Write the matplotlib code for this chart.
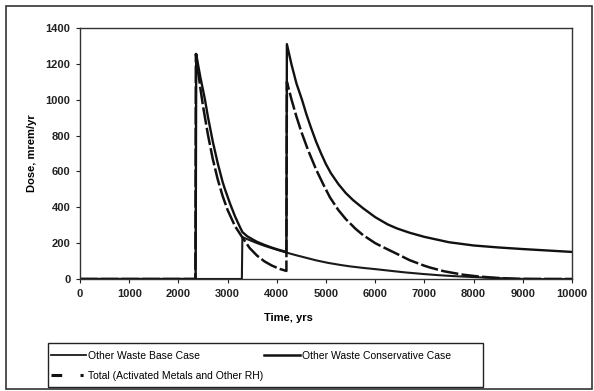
import matplotlib
matplotlib.use("Agg")
import matplotlib.pyplot as plt
from matplotlib.lines import Line2D
from matplotlib.patches import Rectangle

plt.rcParams['font.family'] = ['Liberation Sans', 'DejaVu Sans']

# ---- data ----
time_base = [0, 3290, 3300, 3400, 3500, 3600, 3750, 3900, 4050, 4200, 4400, 4600, 4800, 5040,
             5300, 5500, 5750, 6037, 6300, 6600, 6971, 7300, 7600, 7988, 8300, 8600, 8900, 9200, 10000]
dose_base = [0, 0, 234, 222, 211, 200, 185, 172, 159, 147, 132, 118, 104, 90,
             78, 70, 62, 54, 46, 37, 28, 21, 16, 11, 7, 4, 1, 0, 0]

time_cons = [0, 2350, 2362, 2400, 2450, 2500, 2540, 2600, 2700, 2800, 2900, 2947, 3050, 3150,
             3250, 3300, 3400, 3500, 3600, 3750, 3900, 4050, 4195,
             4205, 4300, 4400, 4512, 4600, 4700, 4800, 4900, 5000, 5100, 5250, 5400, 5550,
             5752, 6000, 6250, 6443, 6700, 7000, 7500, 8000, 8500, 9000, 9500, 10000]
dose_cons = [0, 0, 1255, 1195, 1120, 1055, 1000, 905, 765, 645, 540, 500, 420, 350,
             290, 262, 238, 222, 207, 190, 175, 162, 151,
             1310, 1195, 1090, 1000, 920, 840, 765, 700, 640, 590, 530, 480, 440,
             395, 345, 305, 282, 258, 235, 205, 187, 176, 167, 159, 151]

time_total = [0, 2345, 2355, 2400, 2450, 2500, 2600, 2700, 2800, 2900, 3000, 3150, 3300,
              3450, 3600, 3750, 3900, 4050, 4195,
              4205, 4300, 4400, 4500, 4634, 4800, 4950, 5081, 5250, 5400, 5600, 5752,
              6000, 6158, 6443, 6700, 7000, 7114, 7400, 7785, 8100, 8333, 8600, 8900, 10000]
dose_total = [0, 0, 1255, 1160, 1058, 965, 805, 668, 555, 462, 385, 295, 232,
              172, 130, 98, 75, 57, 45,
              1100, 1000, 905, 820, 720, 610, 525, 455, 385, 335, 280, 245,
              200, 178, 140, 105, 74, 64, 43, 24, 14, 9, 4, 1, 0]

x_ticks = list(range(0, 10001, 1000))
y_ticks = list(range(0, 1401, 200))

labels = ["Other Waste Base Case", "Other Waste Conservative Case",
          "Total (Activated Metals and Other RH)"]

W, H = 594, 391
fig = plt.figure(figsize=(W / 100, H / 100), dpi=100)
fig.patch.set_facecolor('white')

# outer chart frame
fig.add_artist(Rectangle((6 / W, 1 - 389 / H), (592 - 6) / W, (389 - 6) / H,
                         transform=fig.transFigure, fill=False, edgecolor='#333333', lw=1.2))

ax = fig.add_axes([80 / W, 1 - 279 / H, (572 - 80) / W, (279 - 28) / H])
ax.plot(time_base, dose_base, color='#1a1a1a', lw=1.5, label=labels[0])
ax.plot(time_cons, dose_cons, color='#111111', lw=1.7, label=labels[1])
ax.plot(time_total, dose_total, color='#111111', lw=1.8, dashes=(7, 1.3), label=labels[2])

ax.set_xlim(0, 10000)
ax.set_ylim(0, 1400)
ax.set_xticks(x_ticks)
ax.set_yticks(y_ticks)
ax.set_xticklabels([str(v) for v in x_ticks], fontsize=8, fontweight='bold')
ax.set_yticklabels([str(v) for v in y_ticks], fontsize=8, fontweight='bold')
ax.tick_params(direction='out', length=3, width=0.8, colors='#222222', pad=4)
for s in ax.spines.values():
    s.set_color('#333333')
    s.set_linewidth(1.0)

ax.set_ylabel("Dose, mrem/yr", fontsize=8, fontweight='bold', labelpad=6)
fig.text(288 / W, 1 - 318 / H, "Time, yrs", fontsize=8, fontweight='bold',
         ha='center', va='center')

# legend box
fig.add_artist(Rectangle((48 / W, 1 - 387 / H), (483 - 48) / W, (387 - 343) / H,
                         transform=fig.transFigure, fill=False, edgecolor='#222222', lw=1.0))
h_base = Line2D([], [], color='#1a1a1a', lw=1.3)
h_cons = Line2D([], [], color='#111111', lw=1.8)
h_total = Line2D([], [], color='#111111', lw=2.2, dashes=(3.5, 6, 1, 4))
leg = fig.legend([h_base, h_total, h_cons], [labels[0], labels[2], labels[1]],
                 ncol=2, loc='upper left', bbox_to_anchor=(46 / W, 1 - 346 / H),
                 fontsize=7.5, frameon=False, handlelength=3.4, handletextpad=0.2,
                 columnspacing=0.1, borderpad=0.45, labelspacing=1.0, borderaxespad=0)

fig.savefig("out.png", dpi=100)
